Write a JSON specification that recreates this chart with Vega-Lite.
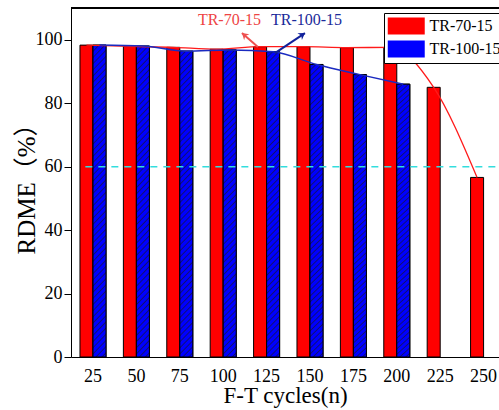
{
  "$schema": "https://vega.github.io/schema/vega-lite/v6.json",
  "width": 428,
  "height": 349,
  "autosize": "none",
  "padding": {"left": 71, "top": 8, "right": 0, "bottom": 53},
  "background": "white",
  "config": {
    "view": {"stroke": null},
    "font": "Liberation Serif",
    "axis": {"labelFont": "Liberation Serif", "titleFont": "Liberation Serif, Noto Sans CJK SC", "labelColor": "black", "titleColor": "black", "titleFontWeight": "normal", "domainColor": "black", "tickColor": "black", "grid": false}
  },
  "datasets": {
    "rdme": [
      {"cycles": 25, "series": "TR-70-15", "value": 98.3},
      {"cycles": 50, "series": "TR-70-15", "value": 97.9},
      {"cycles": 75, "series": "TR-70-15", "value": 97.6},
      {"cycles": 100, "series": "TR-70-15", "value": 97.0},
      {"cycles": 125, "series": "TR-70-15", "value": 97.8},
      {"cycles": 150, "series": "TR-70-15", "value": 97.8},
      {"cycles": 175, "series": "TR-70-15", "value": 97.5},
      {"cycles": 200, "series": "TR-70-15", "value": 97.6},
      {"cycles": 225, "series": "TR-70-15", "value": 85.0},
      {"cycles": 250, "series": "TR-70-15", "value": 56.6},
      {"cycles": 25, "series": "TR-100-15", "value": 98.3},
      {"cycles": 50, "series": "TR-100-15", "value": 98.0},
      {"cycles": 75, "series": "TR-100-15", "value": 96.4},
      {"cycles": 100, "series": "TR-100-15", "value": 96.8},
      {"cycles": 125, "series": "TR-100-15", "value": 96.2},
      {"cycles": 150, "series": "TR-100-15", "value": 92.2},
      {"cycles": 175, "series": "TR-100-15", "value": 89.0},
      {"cycles": 200, "series": "TR-100-15", "value": 86.0}
    ],
    "notes": [
      {"series": "TR-70-15", "label": "TR-70-15", "x": 103.6, "value": 106.2},
      {"series": "TR-100-15", "label": "TR-100-15", "x": 148.0, "value": 106.2}
    ],
    "arrows": [
      {"series": "TR-70-15", "end": "tail", "x": 120.0, "value": 97.7},
      {"series": "TR-70-15", "end": "head", "x": 110.8, "value": 102.1},
      {"series": "TR-100-15", "end": "tail", "x": 129.8, "value": 95.8},
      {"series": "TR-100-15", "end": "head", "x": 147.1, "value": 102.1}
    ]
  },
  "layer": [
    {
      "data": {"name": "rdme"},
      "layer": [
        {
          "mark": {"type": "bar", "stroke": "black", "strokeWidth": 1},
          "encoding": {
            "x": {"field": "cycles", "type": "ordinal", "scale": {"type": "band", "domain": [25, 50, 75, 100, 125, 150, 175, 200, 225, 250], "paddingInner": 0.4, "paddingOuter": 0.131, "align": 0.79},
                  "axis": {"title": "F-T cycles(n)", "labelAngle": 0, "ticks": false, "labelPadding": 10, "labelFontSize": 18, "titleFontSize": 23, "titlePadding": 17, "titleBaseline": "alphabetic"}},
            "xOffset": {"field": "series", "type": "nominal", "scale": {"domain": ["TR-70-15", "TR-100-15"]}},
            "y": {"field": "value", "type": "quantitative", "scale": {"domain": [0, 110], "nice": false},
                  "axis": {"title": "RDME（%）", "values": [0, 20, 40, 60, 80, 100], "tickSize": 7, "labelPadding": 2, "labelFontSize": 18, "titleFontSize": 25, "titlePadding": 1, "titleBaseline": "alphabetic"}},
            "color": {"field": "series", "type": "nominal", "scale": {"domain": ["TR-70-15", "TR-100-15"], "range": ["#ff0000", "#0000ff"]},
                      "legend": {"title": null, "orient": "none", "legendX": 313, "legendY": 5, "fillColor": "white", "strokeColor": "black", "padding": 3,
                                 "symbolType": "M-1,-0.92H3V0.92H-1Z", "symbolSize": 342, "symbolStrokeColor": "black", "symbolStrokeWidth": 1, "symbolOpacity": 1,
                                 "labelFont": "Liberation Serif", "labelFontSize": 16, "labelColor": "black", "labelOffset": 22.5, "labelLimit": 0, "rowPadding": 1,
                                 "encode": {"symbols": {"update": {"fill": {"signal": "datum.value === 'TR-100-15' ? {gradient: 'linear', x1: 0, y1: 0, x2: 1.205, y2: 0.554, stops: [{offset: 0, color: '#101070'}, {offset: 0.02, color: '#0000ff'}, {offset: 0.09, color: '#0000ff'}, {offset: 0.111, color: '#101070'}, {offset: 0.131, color: '#0000ff'}, {offset: 0.201, color: '#0000ff'}, {offset: 0.222, color: '#101070'}, {offset: 0.242, color: '#0000ff'}, {offset: 0.312, color: '#0000ff'}, {offset: 0.333, color: '#101070'}, {offset: 0.353, color: '#0000ff'}, {offset: 0.423, color: '#0000ff'}, {offset: 0.444, color: '#101070'}, {offset: 0.464, color: '#0000ff'}, {offset: 0.534, color: '#0000ff'}, {offset: 0.555, color: '#101070'}, {offset: 0.575, color: '#0000ff'}, {offset: 0.645, color: '#0000ff'}, {offset: 0.666, color: '#101070'}, {offset: 0.686, color: '#0000ff'}, {offset: 0.756, color: '#0000ff'}, {offset: 0.777, color: '#101070'}, {offset: 0.797, color: '#0000ff'}, {offset: 0.867, color: '#0000ff'}, {offset: 0.888, color: '#101070'}, {offset: 0.908, color: '#0000ff'}, {offset: 0.978, color: '#0000ff'}, {offset: 1, color: '#101070'}]} : '#ff0000'"}}}}}}
          }
        },
        {
          "transform": [{"filter": "datum.series === 'TR-100-15'"}],
          "mark": {"type": "bar", "stroke": "black", "strokeWidth": 1, "fill": {"gradient": "linear", "x1": 0, "y1": 0, "x2": 0.0476, "y2": 1.098, "stops": [
            {"offset": 0, "color": "#101070"}, {"offset": 0.004, "color": "#0000ff"}, {"offset": 0.014, "color": "#0000ff"},
            {"offset": 0.018, "color": "#101070"}, {"offset": 0.022, "color": "#0000ff"}, {"offset": 0.032, "color": "#0000ff"},
            {"offset": 0.036, "color": "#101070"}, {"offset": 0.040, "color": "#0000ff"}, {"offset": 0.050, "color": "#0000ff"},
            {"offset": 0.054, "color": "#101070"}, {"offset": 0.058, "color": "#0000ff"}, {"offset": 0.068, "color": "#0000ff"},
            {"offset": 0.072, "color": "#101070"}, {"offset": 0.076, "color": "#0000ff"}, {"offset": 0.086, "color": "#0000ff"},
            {"offset": 0.090, "color": "#101070"}, {"offset": 0.094, "color": "#0000ff"}, {"offset": 0.104, "color": "#0000ff"},
            {"offset": 0.108, "color": "#101070"}, {"offset": 0.112, "color": "#0000ff"}, {"offset": 0.122, "color": "#0000ff"},
            {"offset": 0.126, "color": "#101070"}, {"offset": 0.130, "color": "#0000ff"}, {"offset": 0.140, "color": "#0000ff"},
            {"offset": 0.144, "color": "#101070"}, {"offset": 0.148, "color": "#0000ff"}, {"offset": 0.158, "color": "#0000ff"},
            {"offset": 0.162, "color": "#101070"}, {"offset": 0.166, "color": "#0000ff"}, {"offset": 0.176, "color": "#0000ff"},
            {"offset": 0.180, "color": "#101070"}, {"offset": 0.184, "color": "#0000ff"}, {"offset": 0.194, "color": "#0000ff"},
            {"offset": 0.198, "color": "#101070"}, {"offset": 0.202, "color": "#0000ff"}, {"offset": 0.212, "color": "#0000ff"},
            {"offset": 0.216, "color": "#101070"}, {"offset": 0.220, "color": "#0000ff"}, {"offset": 0.230, "color": "#0000ff"},
            {"offset": 0.234, "color": "#101070"}, {"offset": 0.238, "color": "#0000ff"}, {"offset": 0.248, "color": "#0000ff"},
            {"offset": 0.252, "color": "#101070"}, {"offset": 0.256, "color": "#0000ff"}, {"offset": 0.266, "color": "#0000ff"},
            {"offset": 0.270, "color": "#101070"}, {"offset": 0.274, "color": "#0000ff"}, {"offset": 0.284, "color": "#0000ff"},
            {"offset": 0.288, "color": "#101070"}, {"offset": 0.292, "color": "#0000ff"}, {"offset": 0.302, "color": "#0000ff"},
            {"offset": 0.306, "color": "#101070"}, {"offset": 0.310, "color": "#0000ff"}, {"offset": 0.320, "color": "#0000ff"},
            {"offset": 0.324, "color": "#101070"}, {"offset": 0.328, "color": "#0000ff"}, {"offset": 0.338, "color": "#0000ff"},
            {"offset": 0.342, "color": "#101070"}, {"offset": 0.346, "color": "#0000ff"}, {"offset": 0.356, "color": "#0000ff"},
            {"offset": 0.360, "color": "#101070"}, {"offset": 0.364, "color": "#0000ff"}, {"offset": 0.374, "color": "#0000ff"},
            {"offset": 0.378, "color": "#101070"}, {"offset": 0.382, "color": "#0000ff"}, {"offset": 0.392, "color": "#0000ff"},
            {"offset": 0.396, "color": "#101070"}, {"offset": 0.400, "color": "#0000ff"}, {"offset": 0.410, "color": "#0000ff"},
            {"offset": 0.414, "color": "#101070"}, {"offset": 0.418, "color": "#0000ff"}, {"offset": 0.428, "color": "#0000ff"},
            {"offset": 0.432, "color": "#101070"}, {"offset": 0.436, "color": "#0000ff"}, {"offset": 0.446, "color": "#0000ff"},
            {"offset": 0.450, "color": "#101070"}, {"offset": 0.454, "color": "#0000ff"}, {"offset": 0.464, "color": "#0000ff"},
            {"offset": 0.468, "color": "#101070"}, {"offset": 0.472, "color": "#0000ff"}, {"offset": 0.482, "color": "#0000ff"},
            {"offset": 0.486, "color": "#101070"}, {"offset": 0.490, "color": "#0000ff"}, {"offset": 0.500, "color": "#0000ff"},
            {"offset": 0.504, "color": "#101070"}, {"offset": 0.508, "color": "#0000ff"}, {"offset": 0.518, "color": "#0000ff"},
            {"offset": 0.522, "color": "#101070"}, {"offset": 0.526, "color": "#0000ff"}, {"offset": 0.536, "color": "#0000ff"},
            {"offset": 0.540, "color": "#101070"}, {"offset": 0.544, "color": "#0000ff"}, {"offset": 0.554, "color": "#0000ff"},
            {"offset": 0.558, "color": "#101070"}, {"offset": 0.562, "color": "#0000ff"}, {"offset": 0.572, "color": "#0000ff"},
            {"offset": 0.576, "color": "#101070"}, {"offset": 0.580, "color": "#0000ff"}, {"offset": 0.590, "color": "#0000ff"},
            {"offset": 0.594, "color": "#101070"}, {"offset": 0.598, "color": "#0000ff"}, {"offset": 0.608, "color": "#0000ff"},
            {"offset": 0.612, "color": "#101070"}, {"offset": 0.616, "color": "#0000ff"}, {"offset": 0.626, "color": "#0000ff"},
            {"offset": 0.630, "color": "#101070"}, {"offset": 0.634, "color": "#0000ff"}, {"offset": 0.644, "color": "#0000ff"},
            {"offset": 0.648, "color": "#101070"}, {"offset": 0.652, "color": "#0000ff"}, {"offset": 0.662, "color": "#0000ff"},
            {"offset": 0.666, "color": "#101070"}, {"offset": 0.670, "color": "#0000ff"}, {"offset": 0.680, "color": "#0000ff"},
            {"offset": 0.684, "color": "#101070"}, {"offset": 0.688, "color": "#0000ff"}, {"offset": 0.698, "color": "#0000ff"},
            {"offset": 0.702, "color": "#101070"}, {"offset": 0.706, "color": "#0000ff"}, {"offset": 0.716, "color": "#0000ff"},
            {"offset": 0.720, "color": "#101070"}, {"offset": 0.724, "color": "#0000ff"}, {"offset": 0.734, "color": "#0000ff"},
            {"offset": 0.738, "color": "#101070"}, {"offset": 0.742, "color": "#0000ff"}, {"offset": 0.752, "color": "#0000ff"},
            {"offset": 0.756, "color": "#101070"}, {"offset": 0.760, "color": "#0000ff"}, {"offset": 0.770, "color": "#0000ff"},
            {"offset": 0.774, "color": "#101070"}, {"offset": 0.778, "color": "#0000ff"}, {"offset": 0.788, "color": "#0000ff"},
            {"offset": 0.792, "color": "#101070"}, {"offset": 0.796, "color": "#0000ff"}, {"offset": 0.806, "color": "#0000ff"},
            {"offset": 0.810, "color": "#101070"}, {"offset": 0.814, "color": "#0000ff"}, {"offset": 0.824, "color": "#0000ff"},
            {"offset": 0.828, "color": "#101070"}, {"offset": 0.832, "color": "#0000ff"}, {"offset": 0.842, "color": "#0000ff"},
            {"offset": 0.846, "color": "#101070"}, {"offset": 0.850, "color": "#0000ff"}, {"offset": 0.860, "color": "#0000ff"},
            {"offset": 0.864, "color": "#101070"}, {"offset": 0.868, "color": "#0000ff"}, {"offset": 0.878, "color": "#0000ff"},
            {"offset": 0.882, "color": "#101070"}, {"offset": 0.886, "color": "#0000ff"}, {"offset": 0.896, "color": "#0000ff"},
            {"offset": 0.900, "color": "#101070"}, {"offset": 0.904, "color": "#0000ff"}, {"offset": 0.914, "color": "#0000ff"},
            {"offset": 0.918, "color": "#101070"}, {"offset": 0.922, "color": "#0000ff"}, {"offset": 0.932, "color": "#0000ff"},
            {"offset": 0.936, "color": "#101070"}, {"offset": 0.940, "color": "#0000ff"}, {"offset": 0.950, "color": "#0000ff"},
            {"offset": 0.954, "color": "#101070"}, {"offset": 0.958, "color": "#0000ff"}, {"offset": 0.968, "color": "#0000ff"},
            {"offset": 0.972, "color": "#101070"}, {"offset": 0.976, "color": "#0000ff"}, {"offset": 0.986, "color": "#0000ff"},
            {"offset": 0.990, "color": "#101070"}, {"offset": 0.994, "color": "#0000ff"}, {"offset": 1.0, "color": "#0000ff"}
          ]}},
          "encoding": {
            "x": {"field": "cycles", "type": "ordinal"},
            "xOffset": {"field": "series", "type": "nominal", "scale": {"domain": ["TR-70-15", "TR-100-15"]}},
            "y": {"field": "value", "type": "quantitative", "scale": {"domain": [0, 110], "nice": false}}
          }
        },
        {
          "transform": [{"filter": "datum.series === 'TR-70-15'"}],
          "mark": {"type": "line", "color": "#ff1a1a", "strokeWidth": 1.3, "interpolate": "monotone"},
          "encoding": {
            "x": {"field": "cycles", "type": "ordinal"},
            "xOffset": {"field": "series", "type": "nominal", "scale": {"domain": ["TR-70-15", "TR-100-15"]}},
            "y": {"field": "value", "type": "quantitative", "scale": {"domain": [0, 110], "nice": false}}
          }
        },
        {
          "transform": [{"filter": "datum.series === 'TR-100-15'"}],
          "mark": {"type": "line", "color": "#1a2ac0", "strokeWidth": 1.5, "interpolate": "monotone"},
          "encoding": {
            "x": {"field": "cycles", "type": "ordinal"},
            "xOffset": {"field": "series", "type": "nominal", "scale": {"domain": ["TR-70-15", "TR-100-15"]}},
            "y": {"field": "value", "type": "quantitative", "scale": {"domain": [0, 110], "nice": false}}
          }
        },
        {
          "mark": {"type": "rule", "color": "black", "strokeWidth": 1},
          "encoding": {"y": {"datum": 110, "type": "quantitative", "scale": {"domain": [0, 110], "nice": false}}}
        }
      ]
    },
    {
      "layer": [
        {
          "data": {"values": [{}]},
          "mark": {"type": "rule", "color": "#33dddd", "strokeDash": [7, 6], "strokeWidth": 1.5},
          "encoding": {
            "x": {"datum": 20.6, "type": "quantitative", "scale": {"domain": [12.33, 258.87], "nice": false, "zero": false}, "axis": null},
            "x2": {"datum": 258.87},
            "y": {"datum": 60, "type": "quantitative", "scale": {"domain": [0, 110], "nice": false}}
          }
        },
        {
          "data": {"name": "notes"},
          "mark": {"type": "text", "font": "Liberation Serif", "fontSize": 16, "align": "center", "baseline": "middle"},
          "encoding": {
            "x": {"field": "x", "type": "quantitative", "scale": {"domain": [12.33, 258.87], "nice": false, "zero": false}, "axis": null},
            "y": {"field": "value", "type": "quantitative", "scale": {"domain": [0, 110], "nice": false}},
            "text": {"field": "label"},
            "color": {"condition": {"test": "datum.series === 'TR-70-15'", "value": "#ee4444"}, "value": "#1a2a9a"}
          }
        },
        {
          "data": {"name": "arrows"},
          "transform": [{"filter": "datum.series === 'TR-70-15'"}],
          "mark": {"type": "line", "color": "#ee5050", "strokeWidth": 2},
          "encoding": {
            "x": {"field": "x", "type": "quantitative", "scale": {"domain": [12.33, 258.87], "nice": false, "zero": false}, "axis": null},
            "y": {"field": "value", "type": "quantitative", "scale": {"domain": [0, 110], "nice": false}}
          }
        },
        {
          "data": {"name": "arrows"},
          "transform": [{"filter": "datum.series === 'TR-100-15'"}],
          "mark": {"type": "line", "color": "#10209a", "strokeWidth": 2},
          "encoding": {
            "x": {"field": "x", "type": "quantitative", "scale": {"domain": [12.33, 258.87], "nice": false, "zero": false}, "axis": null},
            "y": {"field": "value", "type": "quantitative", "scale": {"domain": [0, 110], "nice": false}}
          }
        },
        {
          "data": {"name": "arrows"},
          "transform": [{"filter": "datum.series === 'TR-70-15' && datum.end === 'head'"}],
          "mark": {"type": "point", "shape": "M0,0L-1,1.6L0,1.1L1,1.6Z", "size": 64, "filled": true, "opacity": 1, "color": "#ee5050", "angle": 311},
          "encoding": {
            "x": {"field": "x", "type": "quantitative", "scale": {"domain": [12.33, 258.87], "nice": false, "zero": false}, "axis": null},
            "y": {"field": "value", "type": "quantitative", "scale": {"domain": [0, 110], "nice": false}}
          }
        },
        {
          "data": {"name": "arrows"},
          "transform": [{"filter": "datum.series === 'TR-100-15' && datum.end === 'head'"}],
          "mark": {"type": "point", "shape": "M0,0L-1,1.6L0,1.1L1,1.6Z", "size": 64, "filled": true, "opacity": 1, "color": "#10209a", "angle": 56},
          "encoding": {
            "x": {"field": "x", "type": "quantitative", "scale": {"domain": [12.33, 258.87], "nice": false, "zero": false}, "axis": null},
            "y": {"field": "value", "type": "quantitative", "scale": {"domain": [0, 110], "nice": false}}
          }
        }
      ]
    }
  ],
  "resolve": {"scale": {"x": "independent"}}
}
